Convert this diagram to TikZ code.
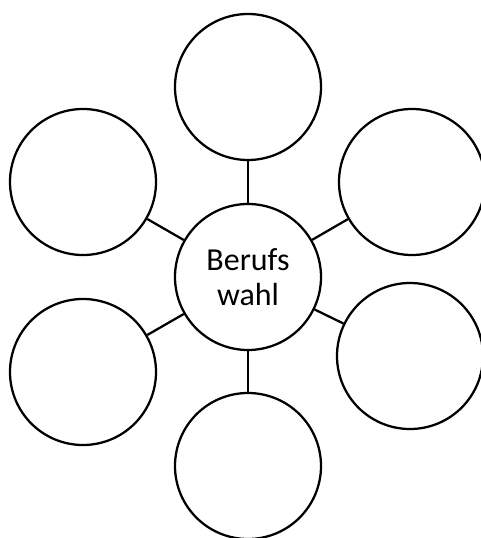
\documentclass[tikz,border=0pt]{standalone}
\usepackage{fontspec}
\setmainfont{Carlito}
\begin{document}
\begin{tikzpicture}[x=0.75pt,y=-0.75pt,
  bubble/.style={circle,draw=black,line width=1.7pt,minimum size=109.5pt,inner sep=0pt,fill=white},
  link/.style={draw=black,line width=1.7pt},
  centertext/.style={align=center,font=\fontsize{24}{26.3}\selectfont}]
\useasboundingbox (0,0) rectangle (480,538);
\node[bubble,centertext] (c) at (248,277) {Berufs\\wahl};
\node[bubble] (t) at (248,87) {};
\node[bubble] (b) at (248,466) {};
\node[bubble] (ul) at (83,182) {};
\node[bubble] (ur) at (412,182) {};
\node[bubble] (ll) at (83,372) {};
\node[bubble] (lr) at (410,356) {};
\foreach \n in {t,b,ul,ur,ll,lr} \draw[link] (c) -- (\n);
\end{tikzpicture}
\end{document}
